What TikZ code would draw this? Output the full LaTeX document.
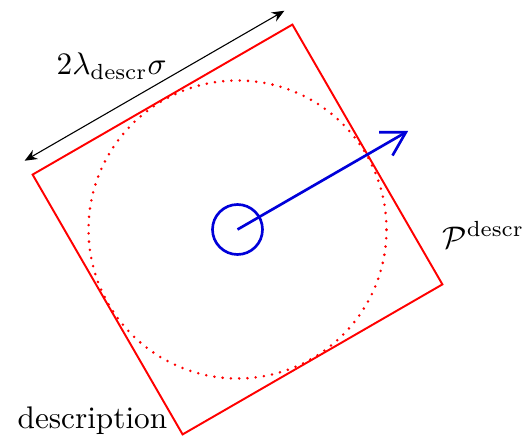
\documentclass[tikz,border=0pt]{standalone}
\usetikzlibrary{arrows.meta,calc}
\begin{document}
\begin{tikzpicture}[x=0.32pt,y=0.32pt,
  boxline/.style={draw=red,line width=0.62pt},
  dotline/.style={draw=red,line width=0.9pt,line cap=round,dash pattern=on 0pt off 2.65pt},
  blueline/.style={draw=blue!85!black,line width=0.85pt},
  dimarrow/.style={draw=black,line width=0.35pt,{Stealth[length=4pt,width=3.3pt]}-{Stealth[length=4pt,width=3.3pt]}},
  lbl/.style={inner sep=0pt,anchor=base west}]
\useasboundingbox (0,0) rectangle (527,437);
\coordinate (c) at (237.5,207.5);
\coordinate (cT) at ($(c)+(75:212.13)$);
\coordinate (cL) at ($(c)+(165:212.13)$);
\coordinate (cB) at ($(c)+(255:212.13)$);
\coordinate (cR) at ($(c)+(345:212.13)$);
\draw[boxline] (cT) -- (cL) -- (cB) -- (cR) -- cycle;
\draw[dotline] (c) circle[radius=149];
\node[blueline,circle,minimum size=50*0.32pt,inner sep=0pt] (small) at (c) {};
\coordinate (tip) at ($(c)+(30:197)$);
\draw[blueline,-{Straight Barb[length=7.4pt,width=8.6pt]}] (c) -- (tip);
\coordinate (dA) at ($(cL)+(120:16)$);
\coordinate (dB) at ($(cT)+(120:16)$);
\draw[dimarrow] (dA) -- (dB);
\node[lbl] (len) at (56,362) {$2\lambda_{\mathrm{descr}}\sigma$};
\node[lbl] (P) at (442,189) {$\mathcal{P}^{\mathrm{descr}}$};
\node[lbl] (desc) at (17,9) {description};
\end{tikzpicture}
\end{document}
